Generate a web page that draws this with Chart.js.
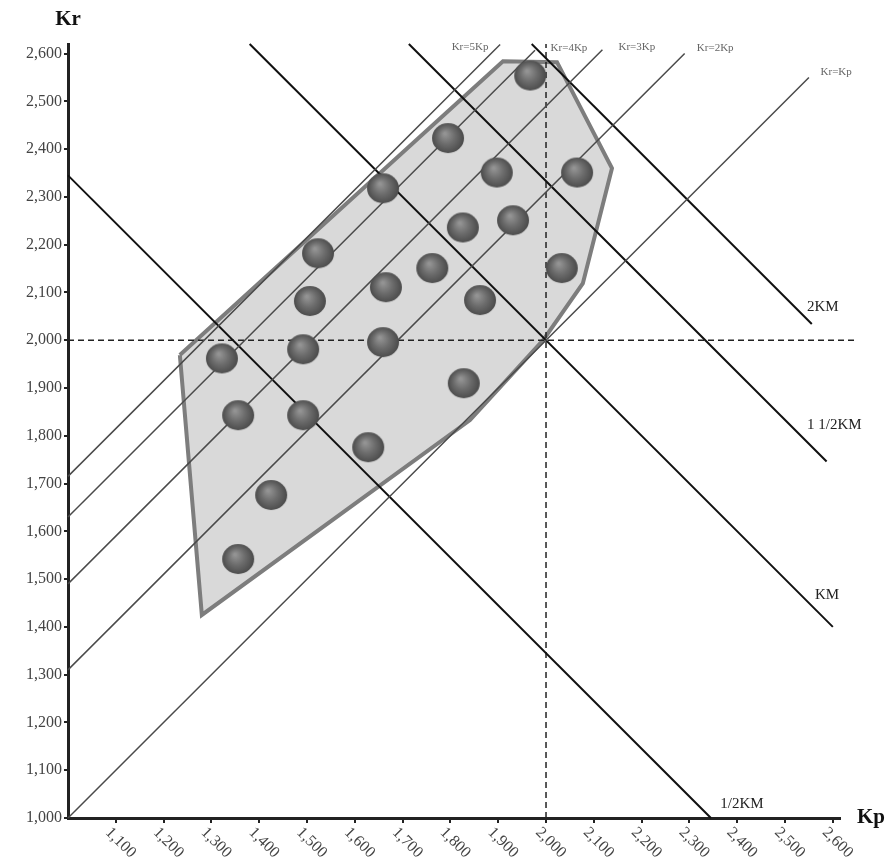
<!DOCTYPE html>
<html>
<head>
<meta charset="utf-8">
<script src="https://cdn.jsdelivr.net/npm/chart.js@4.4.0/dist/chart.umd.min.js"></script>
<style>
  html, body { margin: 0; padding: 0; background: #fff; }
</style>
</head>
<body>
<canvas id="chart" width="890" height="867"></canvas>
<script>
// tick values
const kpTicks = [1100, 1200, 1300, 1400, 1500, 1600, 1700, 1800, 1900, 2000, 2100, 2200, 2300, 2400, 2500, 2600];
const krTicks = [1000, 1100, 1200, 1300, 1400, 1500, 1600, 1700, 1800, 1900, 2000, 2100, 2200, 2300, 2400, 2500, 2600];

// the balls (Kp, Kr)
const ballKp = [1967, 1795, 1897, 2065, 1659, 1826, 1931, 1523, 1762, 2033, 1665, 1506, 1862, 1659, 1492, 1322, 1828, 1356, 1492, 1628, 1425, 1356];
const ballKr = [2554, 2423, 2351, 2351, 2318, 2236, 2251, 2182, 2151, 2151, 2111, 2082, 2084, 1996, 1981, 1962, 1910, 1843, 1843, 1776, 1676, 1542];

// grey hull around the balls
const hullKp = [1234, 1280, 1841, 1994, 2077, 2138, 2023, 1910, 1234];
const hullKr = [1969, 1425, 1833, 2000, 2119, 2360, 2582, 2584, 1969];

// Kr = n Kp rays: start and end
const rayNames = ['Kr=Kp', 'Kr=2Kp', 'Kr=3Kp', 'Kr=4Kp', 'Kr=5Kp'];
const rayKp0 = [1000, 1000, 1000, 1000, 1000];
const rayKr0 = [1000, 1310, 1490, 1630, 1715];
const rayKp1 = [2550, 2290, 2118, 1977, 1904];
const rayKr1 = [2550, 2600, 2608, 2607, 2619];

// KM lines: start and end
const kmNames = ['1/2KM', 'KM', '1 1/2KM', '2KM'];
const kmKp0 = [1000, 1380, 1713, 1970];
const kmKr0 = [2345, 2620, 2620, 2620];
const kmKp1 = [2345, 2600, 2587, 2556];
const kmKr1 = [1000, 1400, 1746, 2034];

// dashed guides at 2,000
const guideH = [[1000, 2000], [2645, 2000]];
const guideV = [[2000, 1000], [2000, 2620]];

const fmt = v => v.toLocaleString('en-US');

// shaded ball marker, a bit wider than tall like the original
function makeBall(rx, ry) {
  const c = document.createElement('canvas');
  c.width = rx * 2 + 2;
  c.height = ry * 2 + 2;
  const g = c.getContext('2d');
  const cx = rx + 1, cy = ry + 1;
  const grad = g.createRadialGradient(cx - rx * 0.2, cy - ry * 0.3, 1, cx, cy, rx);
  grad.addColorStop(0, '#949494');
  grad.addColorStop(0.5, '#6c6c6c');
  grad.addColorStop(1, '#4a4a4a');
  g.fillStyle = grad;
  g.beginPath();
  g.ellipse(cx, cy, rx, ry, 0, 0, Math.PI * 2);
  g.fill();
  return c;
}
const ball = makeBall(16, 15);

const datasets = [];
datasets.push({
  data: hullKp.map((v, i) => ({x: v, y: hullKr[i]})),
  showLine: true, fill: 'shape', backgroundColor: '#d9d9d9',
  borderColor: '#7d7d7d', borderWidth: 4, pointRadius: 0, order: 4, clip: false
});
rayNames.forEach((n, i) => {
  datasets.push({
    data: [{x: rayKp0[i], y: rayKr0[i]}, {x: rayKp1[i], y: rayKr1[i]}],
    showLine: true, borderColor: '#4a4a4a', borderWidth: 1.5, pointRadius: 0, order: 2, clip: false
  });
});
kmNames.forEach((n, i) => {
  datasets.push({
    data: [{x: kmKp0[i], y: kmKr0[i]}, {x: kmKp1[i], y: kmKr1[i]}],
    showLine: true, borderColor: '#111', borderWidth: 2, pointRadius: 0, order: 2, clip: false
  });
});
[guideH, guideV].forEach(g => {
  datasets.push({
    data: g.map(p => ({x: p[0], y: p[1]})),
    showLine: true, borderColor: '#222', borderWidth: 1.5, borderDash: [6, 4],
    pointRadius: 0, order: 3, clip: false
  });
});
datasets.push({
  data: ballKp.map((v, i) => ({x: v, y: ballKr[i]})),
  pointStyle: ball, pointRadius: 15, order: 0
});

// all the text that is not a y tick label
const textPlugin = {
  id: 'texts',
  afterDraw(chart) {
    const {ctx, chartArea, scales: {x, y}} = chart;
    ctx.save();
    ctx.fillStyle = '#444';
    ctx.font = '16px "Liberation Serif"';
    ctx.textAlign = 'left';
    ctx.textBaseline = 'middle';
    kpTicks.forEach(v => {
      ctx.save();
      ctx.translate(x.getPixelForValue(v) - 8, chartArea.bottom + 12);
      ctx.rotate(Math.PI / 4);
      ctx.fillText(fmt(v), 0, 0);
      ctx.restore();
    });

    ctx.fillStyle = '#111';
    ctx.textAlign = 'center';
    ctx.font = 'bold 21px "Liberation Serif"';
    ctx.fillText('Kr', chartArea.left, 20);
    ctx.fillText('Kp', chartArea.right + 31, chartArea.bottom);

    // KM labels
    ctx.fillStyle = '#222';
    ctx.font = '15px "Liberation Serif"';
    const kmAt = [[2410, 1029], [2588, 1467], [2603, 1823], [2579, 2069]];
    kmNames.forEach((n, i) => {
      ctx.fillText(n, x.getPixelForValue(kmAt[i][0]), y.getPixelForValue(kmAt[i][1]));
    });

    // ray labels
    ctx.fillStyle = '#666';
    ctx.font = '11px "Liberation Serif"';
    const rayAt = [[2607, 2561], [2354, 2612], [2190, 2614], [2048, 2612], [1841, 2614]];
    rayNames.forEach((n, i) => {
      ctx.fillText(n, x.getPixelForValue(rayAt[i][0]), y.getPixelForValue(rayAt[i][1]));
    });
    ctx.restore();
  }
};

new Chart(document.getElementById('chart'), {
  type: 'scatter',
  data: {datasets: datasets},
  options: {
    responsive: false,
    animation: false,
    layout: {padding: {top: 44, right: 50, left: 0, bottom: 0}},
    plugins: {legend: {display: false}, tooltip: {enabled: false}},
    scales: {
      x: {
        type: 'linear', min: 1000, max: 2615,
        afterBuildTicks: s => { s.ticks = kpTicks.map(v => ({value: v})); },
        afterFit: s => { s.height = 49; },
        grid: {drawOnChartArea: false, drawTicks: true, tickLength: 5, color: '#222', lineWidth: 2},
        border: {display: true, color: '#222', width: 3},
        ticks: {display: false}
      },
      y: {
        type: 'linear', min: 1000, max: 2620,
        afterBuildTicks: s => { s.ticks = krTicks.map(v => ({value: v})); },
        afterFit: s => { s.width = 68; },
        grid: {drawOnChartArea: false, drawTicks: true, tickLength: 4, color: '#222', lineWidth: 2},
        border: {display: true, color: '#222', width: 3},
        ticks: {
          padding: 2, color: '#444',
          font: {family: '"Liberation Serif"', size: 16},
          callback: v => fmt(v)
        }
      }
    }
  },
  plugins: [textPlugin]
});
</script>
</body>
</html>
